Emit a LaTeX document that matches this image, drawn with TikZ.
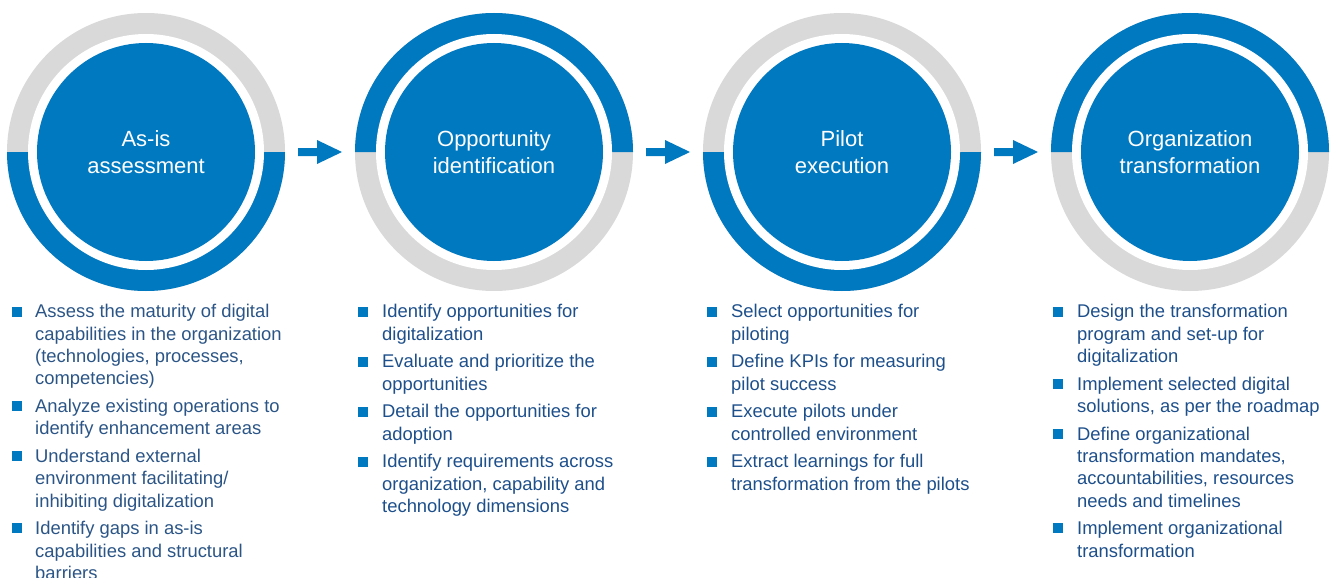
\documentclass[tikz,border=0pt]{standalone}
\usepackage{fontspec}
\setmainfont{Liberation Sans}
\definecolor{mblue}{HTML}{0079C1}
\definecolor{mgray}{HTML}{D9D9D9}
\definecolor{mtext}{HTML}{1D4F8B}
\definecolor{mtexta}{HTML}{2B5586}
\begin{document}
\begin{tikzpicture}[x=1pt,y=1pt,
  disk/.style={circle, fill=mblue, minimum size=218pt, inner sep=0pt, text=white, align=center, font=\fontsize{22}{26.5}\selectfont},
  item/.style={anchor=north west, inner sep=0pt, align=left, text=mtext, font=\fontsize{18.4}{22.3}\selectfont, execute at begin node=\strut},
  bul/.style={rectangle, fill=mblue, minimum size=10pt, inner sep=0pt},
  flow/.style={fill=mblue}]
\useasboundingbox (0,0) rectangle (1330,-578);

% rings
\foreach \cx/\lo in {146/1, 494/0, 842/1, 1190/0}{
  \fill[mgray] (\cx,-152) circle[radius=139pt];
  \ifnum\lo=1
    \fill[mblue] (\cx-139,-152) arc[start angle=180, end angle=360, radius=139pt] -- cycle;
  \else
    \fill[mblue] (\cx-139,-152) arc[start angle=180, end angle=0, radius=139pt] -- cycle;
  \fi
  \fill[white] (\cx,-152) circle[radius=118pt];
}

\node[disk] (c1) at (146,-152) {As-is\\assessment};
\node[disk] (c2) at (494,-152) {Opportunity\\identification};
\node[disk] (c3) at (842,-152) {Pilot\\execution};
\node[disk] (c4) at (1190,-152) {Organization\\transformation};

% block arrows
\coordinate (a1) at (320,-152);
\coordinate (a2) at (668,-152);
\coordinate (a3) at (1016,-152);
\foreach \a in {a1,a2,a3}{
  \fill[flow] (\a) ++(-22,4) -- ++(19,0) -- ++(0,8) -- ++(25,-12) -- ++(-25,-12) -- ++(0,8) -- ++(-19,0) -- cycle;
}

% column 1
\node[item, text=mtexta] (t11) at (35,-317+12.6) {Assess the maturity of digital\\capabilities in the organization\\(technologies, processes,\\competencies)};
\node[item, text=mtexta] (t12) at (35,-411.6+12.6) {Analyze existing operations to\\identify enhancement areas};
\node[item, text=mtexta] (t13) at (35,-461.6+12.6) {Understand external\\environment facilitating/\\inhibiting digitalization};
\node[item, text=mtexta] (t14) at (35,-533.9+12.6) {Identify gaps in as-is\\capabilities and structural\\barriers};
\foreach \y in {317,411.6,461.6,533.9}{ \node[bul] at (16.5,-\y+5.5) {}; }

% column 2
\node[item] (t21) at (382,-317+12.6) {Identify opportunities for\\digitalization};
\node[item] (t22) at (382,-367+12.6) {Evaluate and prioritize the\\opportunities};
\node[item] (t23) at (382,-417+12.6) {Detail the opportunities for\\adoption};
\node[item] (t24) at (382,-467+12.6) {Identify requirements across\\organization, capability and\\technology dimensions};
\foreach \y in {317,367,417,467}{ \node[bul] at (363,-\y+5.5) {}; }

% column 3
\node[item] (t31) at (731,-317+12.6) {Select opportunities for\\piloting};
\node[item] (t32) at (731,-367+12.6) {Define KPIs for measuring\\pilot success};
\node[item] (t33) at (731,-417+12.6) {Execute pilots under\\controlled environment};
\node[item] (t34) at (731,-467+12.6) {Extract learnings for full\\transformation from the pilots};
\foreach \y in {317,367,417,467}{ \node[bul] at (712,-\y+5.5) {}; }

% column 4
\node[item] (t41) at (1077,-317+12.6) {Design the transformation\\program and set-up for\\digitalization};
\node[item] (t42) at (1077,-389.3+12.6) {Implement selected digital\\solutions, as per the roadmap};
\node[item] (t43) at (1077,-439.3+12.6) {Define organizational\\transformation mandates,\\accountabilities, resources\\needs and timelines};
\node[item] (t44) at (1077,-533.9+12.6) {Implement organizational\\transformation};
\foreach \y in {317,389.3,439.3,533.9}{ \node[bul] at (1058,-\y+5.5) {}; }
\end{tikzpicture}
\end{document}
